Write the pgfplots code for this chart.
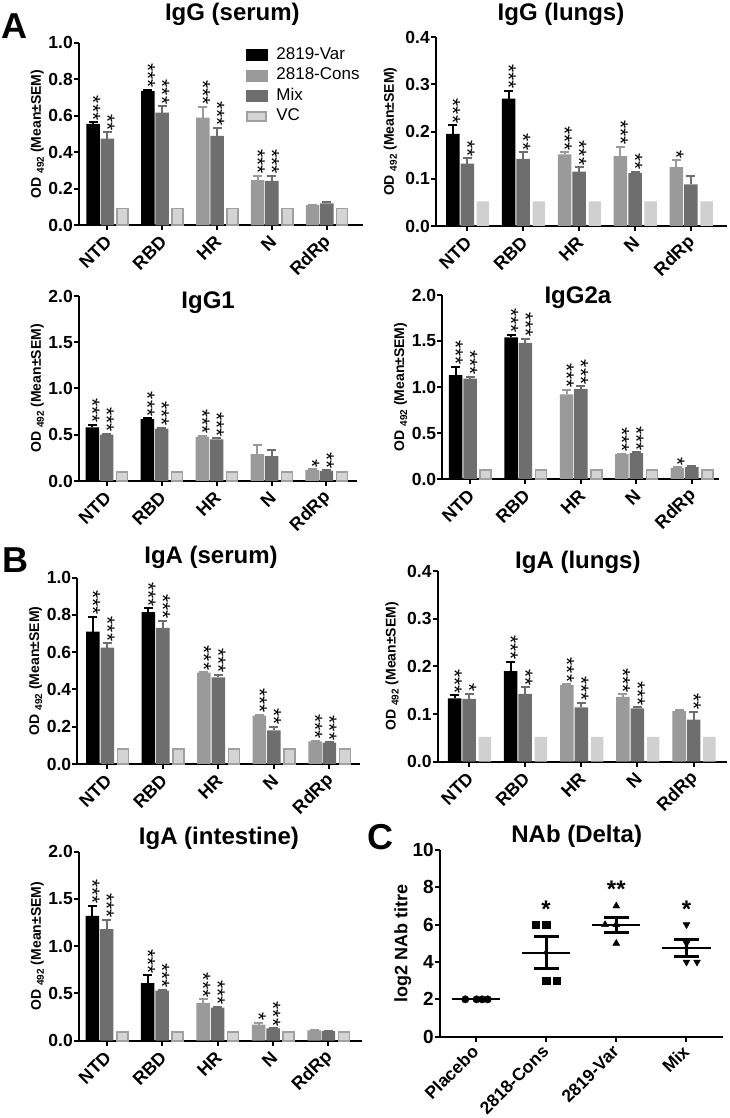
\documentclass[border=0pt]{standalone}
\usepackage{fontspec}
\setmainfont{Liberation Sans}
\usepackage{pgfplots}
\usepackage{pgfplotstable}
\pgfplotsset{compat=1.18}

\definecolor{cons}{HTML}{9A9A9A}
\definecolor{mix}{HTML}{6E6E6E}
\definecolor{vcf}{HTML}{D4D4D4}
\definecolor{vcd}{HTML}{A0A0A0}
\definecolor{vcl}{HTML}{D0D0D0}

\newcommand\titlefont{\bfseries\fontsize{24}{28}\selectfont}
\newcommand\tickfont{\bfseries\fontsize{17.5}{20}\selectfont}
\newcommand\xtickfont{\bfseries\fontsize{18}{21}\selectfont}
\newcommand\ylabfont{\bfseries\fontsize{14}{17}\selectfont}
\newcommand\legfont{\fontsize{17}{20}\selectfont}
\newcommand\starfont{\fontsize{21}{24}\selectfont}
\newcommand\cstarfont{\bfseries\fontsize{24}{28}\selectfont}
\newcommand\letterfont{\bfseries\fontsize{36}{40}\selectfont}

% columns: i, first bar (2819-Var for NTD/RBD, 2818-Cons otherwise), its SEM, Mix, SEM, VC, stars
\pgfplotstableread{
i f fe m me vc sf sm
0 0.555 0.010 0.475 0.035 0.093 *** **
1 0.735 0.008 0.617 0.036 0.093 *** ***
2 0.590 0.060 0.489 0.046 0.093 *** ***
3 0.248 0.024 0.243 0.029 0.093 *** ***
4 0.110 0.003 0.120 0.005 0.093 {} {}
}\tA
\pgfplotstableread{
i f fe m me vc sf sm
0 0.195 0.019 0.132 0.012 0.052 *** **
1 0.270 0.017 0.142 0.015 0.052 *** **
2 0.152 0.004 0.115 0.010 0.052 *** ***
3 0.148 0.020 0.112 0.003 0.052 *** **
4 0.125 0.015 0.088 0.018 0.052 * {}
}\tB
\pgfplotstableread{
i f fe m me vc sf sm
0 0.580 0.030 0.500 0.010 0.100 *** ***
1 0.670 0.010 0.565 0.010 0.100 *** ***
2 0.480 0.010 0.450 0.010 0.100 *** ***
3 0.290 0.100 0.270 0.070 0.100 {} {}
4 0.120 0.005 0.110 0.005 0.100 * **
}\tC
\pgfplotstableread{
i f fe m me vc sf sm
0 1.130 0.090 1.090 0.020 0.100 *** ***
1 1.540 0.030 1.480 0.045 0.100 *** ***
2 0.920 0.050 0.980 0.030 0.100 *** ***
3 0.270 0.005 0.280 0.010 0.100 *** ***
4 0.120 0.005 0.130 0.010 0.100 * {}
}\tD
\pgfplotstableread{
i f fe m me vc sf sm
0 0.710 0.080 0.625 0.025 0.080 *** ***
1 0.815 0.020 0.730 0.040 0.080 *** ***
2 0.490 0.004 0.465 0.015 0.080 *** ***
3 0.260 0.005 0.180 0.020 0.080 *** **
4 0.122 0.003 0.115 0.003 0.080 *** ***
}\tE
\pgfplotstableread{
i f fe m me vc sf sm
0 0.133 0.006 0.132 0.011 0.052 *** *
1 0.190 0.020 0.142 0.014 0.052 *** **
2 0.161 0.002 0.114 0.010 0.052 *** ***
3 0.136 0.005 0.112 0.002 0.052 *** ***
4 0.106 0.002 0.088 0.017 0.052 {} **
}\tF
\pgfplotstableread{
i f fe m me vc sf sm
0 1.320 0.110 1.180 0.100 0.090 *** ***
1 0.610 0.080 0.530 0.010 0.090 *** ***
2 0.400 0.040 0.350 0.010 0.090 *** ***
3 0.170 0.020 0.130 0.005 0.090 * ***
4 0.110 0.005 0.100 0.003 0.090 {} {}
}\tG

\pgfplotsset{
  base/.style={
    scale only axis, clip=false,
    axis lines=left, axis line style={-, line width=2pt},
    tick align=outside, major tick length=5pt,
    tick style={black, line width=2pt},
    /pgf/number format/assume math mode=true,
    scaled y ticks=false,
    yticklabel style={font=\tickfont, inner sep=1pt,
      /pgf/number format/fixed, /pgf/number format/fixed zerofill,
      /pgf/number format/precision=1},
    xticklabel style={font=\xtickfont, yshift=-8pt, xshift=2pt, rotate=45, anchor=east, inner sep=1pt},
    ylabel style={font=\ylabfont},
    ymin=0,
  },
  bars/.style={base,
    xtick={0,1,2,3,4}, xticklabels={NTD,RBD,HR,N,RdRp},
    ylabel={OD \raisebox{-0.4ex}{\fontsize{10}{12}\selectfont 492} (Mean±SEM)},
  },
  ttl/.style n args={3}{title={#1}, every axis title/.style={font=\titlefont, at={(axis description cs:#2,1)}, anchor=base, yshift=#3, inner sep=0pt}},
  errs/.style={error bars/.cd, y dir=plus, y explicit,
    error bar style={#1, line width=2pt},
    error mark options={rotate=90, #1, line width=2pt, mark size=4.5pt}},
  stars/.style={draw=none, mark=none, nodes near coords, point meta=explicit symbolic,
    nodes near coords style={rotate=-90, anchor=east, font=\starfont, inner sep=1.5pt, black}},
  vcA/.style={ybar, bar width=11pt, bar shift=0pt, fill=vcf, draw=vcd, line width=1.6pt},
  vcB/.style={ybar, bar width=12.5pt, bar shift=0pt, fill=vcl, draw=none},
}

\newcommand\panelbars[2]{%
  \addplot[ybar, bar width=13.5pt, bar shift=0pt, fill=black, draw=none,
    skip coords between index={2}{5}, errs=black]
    table[x expr=\thisrow{i}-0.26, y=f, y error=fe] {#1};
  \addplot[ybar, bar width=13.5pt, bar shift=0pt, fill=cons, draw=none,
    skip coords between index={0}{2}, errs=cons]
    table[x expr=\thisrow{i}-0.26, y=f, y error=fe] {#1};
  \addplot[ybar, bar width=13.5pt, bar shift=0pt, fill=mix, draw=none, errs=mix]
    table[x expr=\thisrow{i}, y=m, y error=me] {#1};
  \addplot[#2] table[x expr=\thisrow{i}+0.28, y=vc] {#1};
  \addplot[stars] table[x expr=\thisrow{i}-0.26, y expr=\thisrow{f}+\thisrow{fe}, meta=sf] {#1};
  \addplot[stars] table[x expr=\thisrow{i}, y expr=\thisrow{m}+\thisrow{me}, meta=sm] {#1};
}

\begin{document}
\begin{tikzpicture}
\useasboundingbox (0,0) rectangle (729pt,1118pt);

% ---------- IgG (serum)
\begin{axis}[bars, at={(79pt,892.7pt)}, anchor=south west, width=284pt, height=182.6pt,
  xmin=-0.516, xmax=4.66, ymax=1, ytick={0,0.2,0.4,0.6,0.8,1},
  ttl={IgG (serum)}{0.54}{21.7pt},
  legend style={draw=none, fill=none, at={(0.588,0.975)}, anchor=north west,
    inner sep=0pt, outer sep=0pt, font=\legfont, row sep=5pt, column sep=0pt,
    nodes={inner sep=0pt, text height=12pt, text depth=3.5pt}},
  legend cell align=left]
\addlegendimage{legend image code/.code={\fill[black] (0pt,-5.5pt) rectangle (21pt,5.5pt); \path (30pt,0pt);}}
\addlegendimage{legend image code/.code={\fill[cons] (0pt,-5.5pt) rectangle (21pt,5.5pt); \path (30pt,0pt);}}
\addlegendimage{legend image code/.code={\fill[mix] (0pt,-5.5pt) rectangle (21pt,5.5pt); \path (30pt,0pt);}}
\addlegendimage{legend image code/.code={\filldraw[fill=vcf, draw=vcd, line width=2pt] (1pt,-4.5pt) rectangle (20pt,4.5pt); \path (30pt,0pt);}}
\legend{2819-Var,2818-Cons,Mix,VC}
\panelbars{\tA}{vcA}
\end{axis}

% ---------- IgG (lungs)
\begin{axis}[bars, at={(436pt,892pt)}, anchor=south west, width=290.7pt, height=188.7pt,
  xmin=-0.56, xmax=4.64, ymax=0.4, ytick={0,0.1,0.2,0.3,0.4},
  ylabel style={xshift=0pt, yshift=4pt},
  ttl={IgG (lungs)}{0.43}{16.6pt}]
\panelbars{\tB}{vcB}
\end{axis}

% ---------- IgG1
\begin{axis}[bars, at={(79pt,637pt)}, anchor=south west, width=277.7pt, height=185pt,
  xmin=-0.504, xmax=4.55, ymax=2, ytick={0,0.5,1,1.5,2},
  ttl={IgG1}{0.465}{-12.3pt}]
\panelbars{\tC}{vcA}
\end{axis}

% ---------- IgG2a
\begin{axis}[bars, at={(442.3pt,639pt)}, anchor=south west, width=276.7pt, height=184pt,
  xmin=-0.5, xmax=4.49, ymax=2, ytick={0,0.5,1,1.5,2},
  ttl={IgG2a}{0.49}{-9pt}]
\panelbars{\tD}{vcA}
\end{axis}

% ---------- IgA (serum)
\begin{axis}[bars, at={(77.3pt,354pt)}, anchor=south west, width=282.7pt, height=186.3pt,
  xmin=-0.54, xmax=4.55, ymax=1, ytick={0,0.2,0.4,0.6,0.8,1},
  ttl={IgA (serum)}{0.473}{14.4pt}]
\panelbars{\tE}{vcA}
\end{axis}

% ---------- IgA (lungs)
\begin{axis}[bars, at={(437.7pt,356.3pt)}, anchor=south west, width=289pt, height=190.7pt,
  xmin=-0.56, xmax=4.59, ymax=0.4, ytick={0,0.1,0.2,0.3,0.4},
  ylabel style={yshift=4pt},
  ttl={IgA (lungs)}{0.485}{2.7pt}]
\panelbars{\tF}{vcB}
\end{axis}

% ---------- IgA (intestine)
\begin{axis}[bars, at={(79pt,77.3pt)}, anchor=south west, width=282.7pt, height=189pt,
  xmin=-0.5, xmax=4.6, ymax=2, ytick={0,0.5,1,1.5,2},
  ttl={IgA (intestine)}{0.495}{7.4pt}]
\panelbars{\tG}{vcA}
\end{axis}

% ---------- NAb (Delta)
\begin{axis}[base, at={(440pt,81.3pt)}, anchor=south west, width=283pt, height=186.7pt,
  xmin=-0.51, xmax=3.52, ymax=10, ytick={0,2,4,6,8,10},
  xtick={0,1,2,3}, xticklabels={Placebo,2818-Cons,2819-Var,Mix},
  yticklabel style={font=\bfseries\fontsize{19}{22}\selectfont, /pgf/number format/precision=0},
  xticklabel style={font=\bfseries\fontsize{17.5}{20}\selectfont, yshift=2.5pt},
  ylabel={log2 NAb titre}, ylabel style={font=\bfseries\fontsize{18}{21}\selectfont, yshift=-3pt},
  ttl={NAb (Delta)}{0.483}{7.7pt}]
\addplot[only marks, mark=*, mark size=3.7pt, black] coordinates {(-0.15,2) (0.01,2) (0.09,2) (0.17,2)};
\addplot[only marks, mark=square*, mark size=3.7pt, black] coordinates {(0.855,6) (1,6) (1,3) (1.155,3)};
\addplot[only marks, mark=triangle*, mark size=4pt, black] coordinates {(2,7) (1.84,6) (2,6) (2,5)};
\addplot[only marks, mark=triangle*, mark size=4pt, mark options={rotate=180}, black] coordinates {(3,6) (3,5) (3,4) (3.15,4)};
\addplot[black, line width=2pt] coordinates {(-0.343,2) (0.343,2)};
\addplot[black, line width=2pt] coordinates {(0.657,4.5) (1.343,4.5)};
\addplot[black, line width=2pt] coordinates {(1.657,6) (2.343,6)};
\addplot[black, line width=2pt] coordinates {(2.657,4.75) (3.343,4.75)};
\addplot[only marks, mark=none, error bars/.cd, y dir=both, y explicit,
  error bar style={black, line width=3pt},
  error mark options={rotate=90, black, line width=3pt, mark size=12.5pt}]
  coordinates {(1,4.5) +- (0,0.866) (2,6) +- (0,0.408) (3,4.75) +- (0,0.479)};
\node[anchor=base, font=\cstarfont] at (axis cs:1,6.37) {*};
\node[anchor=base, font=\cstarfont] at (axis cs:2,7.44) {**};
\node[anchor=base, font=\cstarfont] at (axis cs:3,6.37) {*};
\end{axis}

\node[anchor=base west, font=\letterfont, inner sep=0pt] at (1.5pt,1079.7pt) {A};
\node[anchor=base west, font=\letterfont, inner sep=0pt] at (2pt,545pt) {B};
\node[anchor=base west, font=\letterfont, inner sep=0pt] at (367pt,268pt) {C};
\end{tikzpicture}
\end{document}
